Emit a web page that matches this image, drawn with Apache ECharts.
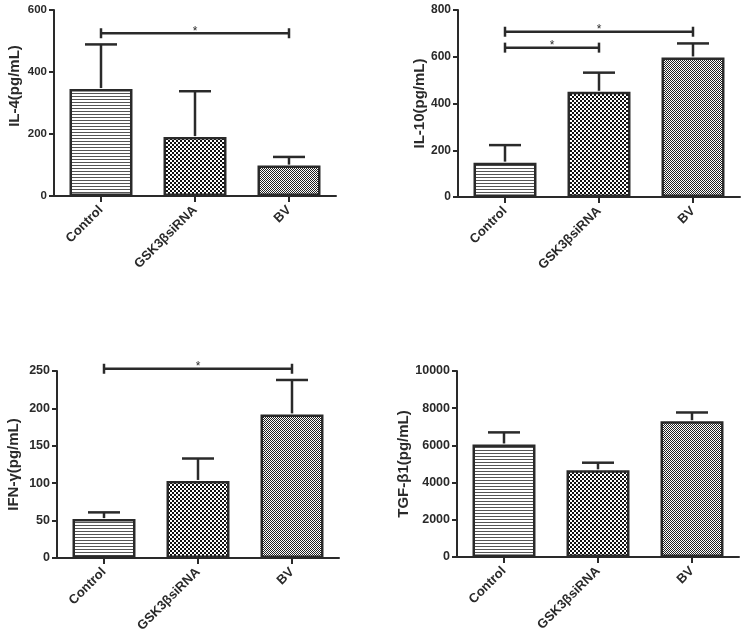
<!DOCTYPE html>
<html>
<head>
<meta charset="utf-8">
<script src="https://cdn.jsdelivr.net/npm/echarts@6/dist/echarts.min.js"></script>
<style>
html,body{margin:0;padding:0;background:#fff;}
#main{width:745px;height:644px;}
</style>
</head>
<body>
<div id="main"></div>
<script>
// ---- data ----
const categories = ['Control', 'GSK3βsiRNA', 'BV'];

const il4Mean = [345, 190, 98];
const il4Err = [144, 148, 28];
const il4Ticks = [0, 200, 400, 600];
const il4Sig = [[0, 2, 525]];

const il10Mean = [147, 450, 597];
const il10Err = [75, 82, 60];
const il10Ticks = [0, 200, 400, 600, 800];
const il10Sig = [[0, 1, 639], [0, 2, 707]];

const ifnMean = [52, 103, 192];
const ifnErr = [9, 30, 46];
const ifnTicks = [0, 50, 100, 150, 200, 250];
const ifnSig = [[0, 2, 253]];

const tgfMean = [6050, 4660, 7300];
const tgfErr = [650, 410, 470];
const tgfTicks = [0, 2000, 4000, 6000, 8000, 10000];
const tgfSig = [];

const yNames = ['IL-4(pg/mL)', 'IL-10(pg/mL)', 'IFN-γ(pg/mL)', 'TGF-β1(pg/mL)'];

// ---- patterns ----
function makePattern(w, h, draw) {
  const c = document.createElement('canvas');
  c.width = w; c.height = h;
  const ctx = c.getContext('2d');
  ctx.fillStyle = '#fff';
  ctx.fillRect(0, 0, w, h);
  draw(ctx);
  return { image: c, repeat: 'repeat' };
}
const patLines = makePattern(4, 3, ctx => { ctx.fillStyle = '#555'; ctx.fillRect(0, 0, 4, 1); });
const patChecker = makePattern(4, 4, ctx => { ctx.fillStyle = '#111'; ctx.fillRect(0, 0, 2, 2); ctx.fillRect(2, 2, 2, 2); });
const patFine = makePattern(2, 2, ctx => { ctx.fillStyle = '#222'; ctx.fillRect(0, 0, 1, 1); ctx.fillRect(1, 1, 1, 1); });
const patterns = [patLines, patChecker, patFine];

const INK = '#2a2a2a';
const FONT = 'Liberation Sans, Arial, sans-serif';

const panels = [
  { mean: il4Mean, err: il4Err, ticks: il4Ticks, sig: il4Sig, grid: { left: 54, top: 10, width: 282, height: 186 }, nameGap: 32, namePad: [0, 0, 0, 34], tickFont: 11.5 },
  { mean: il10Mean, err: il10Err, ticks: il10Ticks, sig: il10Sig, grid: { left: 458, top: 10, width: 282, height: 187 }, nameGap: 31, namePad: 0, tickFont: 12 },
  { mean: ifnMean, err: ifnErr, ticks: ifnTicks, sig: ifnSig, grid: { left: 57, top: 371, width: 282, height: 187 }, nameGap: 36, namePad: 0, tickFont: 12.5 },
  { mean: tgfMean, err: tgfErr, ticks: tgfTicks, sig: tgfSig, grid: { left: 457, top: 371, width: 282, height: 186 }, nameGap: 43, namePad: 0, tickFont: 12.5 }
];

const grids = [], xAxes = [], yAxes = [], series = [];
panels.forEach((p, i) => {
  grids.push(Object.assign({ containLabel: false }, p.grid));
  const t = p.ticks;
  xAxes.push({
    type: 'category', gridIndex: i, data: categories,
    axisLine: { show: true, lineStyle: { color: INK, width: 2 } },
    axisTick: { show: true, alignWithLabel: true, length: 6, lineStyle: { color: INK, width: 2 } },
    axisLabel: { rotate: 45, margin: 12, fontSize: 13, fontWeight: 'bold', color: INK, fontFamily: FONT, interval: 0 }
  });
  yAxes.push({
    type: 'value', gridIndex: i, min: t[0], max: t[t.length - 1], interval: t[1] - t[0],
    name: yNames[i], nameLocation: 'middle', nameRotate: 90, nameGap: p.nameGap,
    nameTextStyle: { fontSize: 15, fontWeight: 'bold', color: INK, fontFamily: FONT, padding: p.namePad },
    axisLine: { show: true, lineStyle: { color: INK, width: 2 } },
    axisTick: { show: true, length: 5, lineStyle: { color: INK, width: 2 } },
    axisLabel: { margin: 7, fontSize: p.tickFont, fontWeight: 'bold', color: INK, fontFamily: FONT, formatter: v => String(v) },
    splitLine: { show: false }
  });
  series.push({
    type: 'bar', xAxisIndex: i, yAxisIndex: i, barWidth: '67%',
    data: p.mean.map((v, k) => ({ value: v, itemStyle: { color: patterns[k] } })),
    itemStyle: { borderColor: INK, borderWidth: 2.5 },
    silent: true, z: 2
  });
  series.push({
    type: 'custom', xAxisIndex: i, yAxisIndex: i, clip: false, z: 3, silent: true,
    data: p.mean.map((v, k) => [k, v, p.err[k]]),
    encode: { x: 0, y: 1 },
    renderItem: (params, api) => {
      const k = api.value(0), m = api.value(1), e = api.value(2);
      const a = api.coord([k, m]);
      const b = api.coord([k, m + e]);
      const st = { stroke: INK, lineWidth: 2.5 };
      return {
        type: 'group', children: [
          { type: 'line', shape: { x1: a[0], y1: a[1] - 1, x2: b[0], y2: b[1] }, style: st },
          { type: 'line', shape: { x1: b[0] - 16, y1: b[1], x2: b[0] + 16, y2: b[1] }, style: st }
        ]
      };
    }
  });
  if (p.sig.length) {
    series.push({
      type: 'custom', xAxisIndex: i, yAxisIndex: i, clip: false, z: 3, silent: true,
      data: p.sig,
      encode: { x: [0, 1], y: 2 },
      renderItem: (params, api) => {
        const k1 = api.value(0), k2 = api.value(1), y = api.value(2);
        const a = api.coord([k1, y]);
        const b = api.coord([k2, y]);
        const st = { stroke: INK, lineWidth: 2.5 };
        return {
          type: 'group', children: [
            { type: 'line', shape: { x1: a[0], y1: a[1], x2: b[0], y2: b[1] }, style: st },
            { type: 'line', shape: { x1: a[0], y1: a[1] - 5, x2: a[0], y2: a[1] + 5 }, style: st },
            { type: 'line', shape: { x1: b[0], y1: b[1] - 5, x2: b[0], y2: b[1] + 5 }, style: st },
            { type: 'text', style: { text: '*', x: (a[0] + b[0]) / 2, y: a[1] - 2, align: 'center', verticalAlign: 'middle', fontSize: 12, fill: INK, fontFamily: FONT } }
          ]
        };
      }
    });
  }
});

const chart = echarts.init(document.getElementById('main'), null, { renderer: 'canvas' });
chart.setOption({
  animation: false,
  backgroundColor: '#fff',
  grid: grids, xAxis: xAxes, yAxis: yAxes, series: series
});
</script>
</body>
</html>
